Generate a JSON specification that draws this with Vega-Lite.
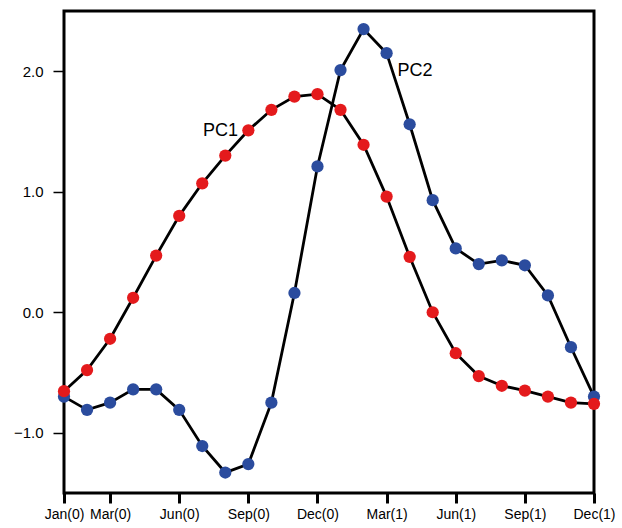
{
  "$schema": "https://vega.github.io/schema/vega-lite/v6.json",
  "width": 530,
  "height": 482,
  "autosize": "none",
  "padding": {"left": 64, "top": 11, "right": 28, "bottom": 35},
  "config": {
    "view": {"stroke": "black", "strokeWidth": 3},
    "font": "Liberation Sans"
  },
  "datasets": {
    "pcs": [
      {"m": 0, "v": -0.70, "pc": "PC2"},
      {"m": 1, "v": -0.81, "pc": "PC2"},
      {"m": 2, "v": -0.75, "pc": "PC2"},
      {"m": 3, "v": -0.64, "pc": "PC2"},
      {"m": 4, "v": -0.64, "pc": "PC2"},
      {"m": 5, "v": -0.81, "pc": "PC2"},
      {"m": 6, "v": -1.11, "pc": "PC2"},
      {"m": 7, "v": -1.33, "pc": "PC2"},
      {"m": 8, "v": -1.26, "pc": "PC2"},
      {"m": 9, "v": -0.75, "pc": "PC2"},
      {"m": 10, "v": 0.16, "pc": "PC2"},
      {"m": 11, "v": 1.21, "pc": "PC2"},
      {"m": 12, "v": 2.01, "pc": "PC2"},
      {"m": 13, "v": 2.35, "pc": "PC2"},
      {"m": 14, "v": 2.15, "pc": "PC2"},
      {"m": 15, "v": 1.56, "pc": "PC2"},
      {"m": 16, "v": 0.93, "pc": "PC2"},
      {"m": 17, "v": 0.53, "pc": "PC2"},
      {"m": 18, "v": 0.40, "pc": "PC2"},
      {"m": 19, "v": 0.43, "pc": "PC2"},
      {"m": 20, "v": 0.39, "pc": "PC2"},
      {"m": 21, "v": 0.14, "pc": "PC2"},
      {"m": 22, "v": -0.29, "pc": "PC2"},
      {"m": 23, "v": -0.70, "pc": "PC2"},
      {"m": 0, "v": -0.655, "pc": "PC1"},
      {"m": 1, "v": -0.48, "pc": "PC1"},
      {"m": 2, "v": -0.22, "pc": "PC1"},
      {"m": 3, "v": 0.12, "pc": "PC1"},
      {"m": 4, "v": 0.47, "pc": "PC1"},
      {"m": 5, "v": 0.80, "pc": "PC1"},
      {"m": 6, "v": 1.07, "pc": "PC1"},
      {"m": 7, "v": 1.30, "pc": "PC1"},
      {"m": 8, "v": 1.51, "pc": "PC1"},
      {"m": 9, "v": 1.68, "pc": "PC1"},
      {"m": 10, "v": 1.79, "pc": "PC1"},
      {"m": 11, "v": 1.81, "pc": "PC1"},
      {"m": 12, "v": 1.68, "pc": "PC1"},
      {"m": 13, "v": 1.39, "pc": "PC1"},
      {"m": 14, "v": 0.96, "pc": "PC1"},
      {"m": 15, "v": 0.46, "pc": "PC1"},
      {"m": 16, "v": 0.00, "pc": "PC1"},
      {"m": 17, "v": -0.34, "pc": "PC1"},
      {"m": 18, "v": -0.53, "pc": "PC1"},
      {"m": 19, "v": -0.61, "pc": "PC1"},
      {"m": 20, "v": -0.65, "pc": "PC1"},
      {"m": 21, "v": -0.70, "pc": "PC1"},
      {"m": 22, "v": -0.75, "pc": "PC1"},
      {"m": 23, "v": -0.76, "pc": "PC1"}
    ],
    "labels": [
      {"m": 6.79, "v": 1.506, "t": "PC1"},
      {"m": 15.23, "v": 2.0, "t": "PC2"}
    ]
  },
  "encoding": {
    "x": {
      "field": "m",
      "type": "quantitative",
      "scale": {"domain": [0, 23], "nice": false, "zero": false},
      "axis": {
        "title": null,
        "grid": false,
        "domain": false,
        "values": [0, 2, 5, 8, 11, 14, 17, 20, 23],
        "labelExpr": "datum.value == 0 ? 'Jan(0)' : datum.value == 2 ? 'Mar(0)' : datum.value == 5 ? 'Jun(0)' : datum.value == 8 ? 'Sep(0)' : datum.value == 11 ? 'Dec(0)' : datum.value == 14 ? 'Mar(1)' : datum.value == 17 ? 'Jun(1)' : datum.value == 20 ? 'Sep(1)' : 'Dec(1)'",
        "tickSize": 10,
        "tickWidth": 3,
        "tickColor": "black",
        "labelFontSize": 14,
        "labelColor": "black",
        "labelPadding": 4,
        "labelFlush": false,
        "labelOverlap": false
      }
    },
    "y": {
      "field": "v",
      "type": "quantitative",
      "scale": {"domain": [-1.5, 2.5], "nice": false, "zero": false},
      "axis": {
        "title": null,
        "grid": false,
        "domain": false,
        "values": [-1, 0, 1, 2],
        "format": ".1f",
        "tickSize": 11,
        "tickWidth": 1.5,
        "tickColor": "black",
        "labelFontSize": 15,
        "labelColor": "black",
        "labelPadding": 10
      }
    }
  },
  "layer": [
    {
      "mark": {"type": "rule", "color": "#222", "strokeWidth": 1.3},
      "encoding": {"y": {"datum": 0}, "x": null}
    },
    {
      "data": {"name": "pcs"},
      "mark": {"type": "line", "color": "black", "strokeWidth": 2.8},
      "encoding": {"detail": {"field": "pc"}}
    },
    {
      "data": {"name": "pcs"},
      "mark": {"type": "point", "filled": true, "opacity": 1, "size": 150},
      "encoding": {
        "color": {
          "field": "pc",
          "type": "nominal",
          "scale": {"domain": ["PC1", "PC2"], "range": ["#e41a1c", "#2b4c9e"]},
          "legend": null
        }
      }
    },
    {
      "data": {"name": "labels"},
      "mark": {"type": "text", "fontSize": 18, "color": "black", "align": "center", "baseline": "middle"},
      "encoding": {"text": {"field": "t"}}
    }
  ]
}
